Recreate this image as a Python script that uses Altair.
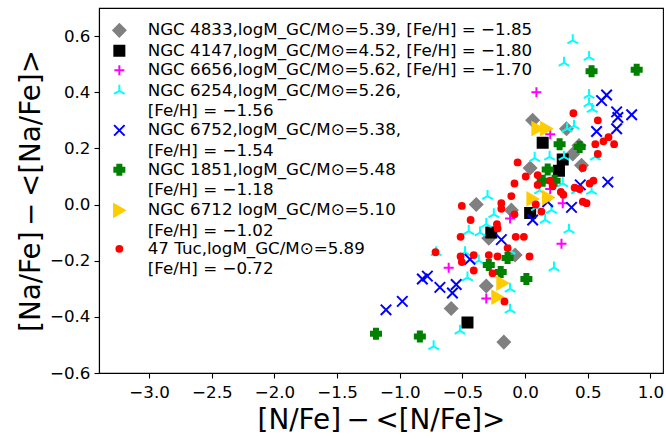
import altair as alt
import pandas as pd

labels = [
    "NGC 4833,logM_GC/M⊙=5.39, [Fe/H] = −1.85",
    "NGC 4147,logM_GC/M⊙=4.52, [Fe/H] = −1.80",
    "NGC 6656,logM_GC/M⊙=5.62, [Fe/H] = −1.70",
    "NGC 6254,logM_GC/M⊙=5.26,|[Fe/H] = −1.56",
    "NGC 6752,logM_GC/M⊙=5.38,|[Fe/H] = −1.54",
    "NGC 1851,logM_GC/M⊙=5.48|[Fe/H] = −1.18",
    "NGC 6712 logM_GC/M⊙=5.10|[Fe/H] = −1.02",
    "47 Tuc,logM_GC/M⊙=5.89|[Fe/H] = −0.72",
]

# NGC 4833
x_4833 = [0.06, 0.33, 0.43, 0.38, 0.45, 0.04, -0.39, -0.11, -0.29, -0.08, -0.31, -0.59, -0.17]
y_4833 = [0.30, 0.27, 0.21, 0.18, 0.14, 0.13, 0.00, -0.02, -0.12, -0.18, -0.29, -0.37, -0.49]
# NGC 4147
x_4147 = [-0.46, -0.27, 0.04, 0.14, 0.30, 0.27]
y_4147 = [-0.42, -0.10, -0.03, 0.22, 0.16, 0.12]
# NGC 6656
x_6656 = [0.09, 0.20, 0.20, 0.30, -0.12, 0.29, -0.61, -0.31]
y_6656 = [0.40, 0.25, 0.055, 0.005, -0.05, -0.14, -0.225, -0.335]
# NGC 6254
x_6254 = [0.38, 0.51, 0.31, 0.51, 0.51, 0.535, 0.39, 0.335, 0.076, 0.195, 0.31, 0.56,
          0.30, 0.115, 0.41, 0.53, -0.30, 0.09, 0.21, 0.16, -0.25, -0.31, -0.45, -0.36,
          0.35, -0.71, -0.48, -0.37, -0.12, 0.23, -0.46, -0.12, -0.12, -0.52, -0.73]
y_6254 = [0.585, 0.525, 0.505, 0.39, 0.36, 0.34, 0.28, 0.27, 0.165, 0.17, 0.17, 0.17,
          0.075, 0.05, 0.05, 0.048, 0.03, -0.01, -0.02, -0.055, -0.035, -0.07, -0.095, -0.10,
          -0.09, -0.17, -0.17, -0.20, -0.165, -0.225, -0.26, -0.30, -0.375, -0.45, -0.505]
# NGC 6752
x_6752 = [0.65, 0.61, 0.73, 0.74, 0.85, 0.73, 0.57, 0.44, 0.66, 0.37, 0.18, 0.06, -0.19,
          -0.44, -0.82, -0.78, -0.68, -0.55, -0.58, -0.98, -1.11]
y_6752 = [0.39, 0.37, 0.33, 0.31, 0.32, 0.27, 0.26, 0.07, 0.08, -0.01, 0.01, -0.055, -0.125,
          -0.195, -0.265, -0.255, -0.295, -0.285, -0.315, -0.345, -0.375]
# NGC 1851
x_1851 = [0.53, 0.89, 0.275, 0.435, 0.18, 0.14, 0.235, -0.14, -0.29, -0.195, 0.01, -1.19, -0.84]
y_1851 = [0.475, 0.48, 0.215, 0.205, 0.125, 0.085, 0.085, -0.19, -0.215, -0.24, -0.265, -0.46, -0.47]
# NGC 6712
x_6712 = [0.10, 0.17, 0.06, 0.185, -0.18, -0.22]
y_6712 = [0.27, 0.27, 0.02, 0.025, -0.28, -0.33]
# 47 Tuc
x_47tuc = [0.385, 0.58, 0.665, 0.625, 0.56, 0.71, 0.58, 0.46, -0.06, 0.005, -0.085, 0.10,
           0.10, 0.20, 0.22, 0.545, 0.435, 0.305, 0.49, -0.19, -0.11, -0.505, 0.085, 0.13,
           0.395, 0.515, 0.46, 0.285, -0.085, -0.19, -0.435, -0.225, -0.22, -0.515, -0.075,
           -0.01, -0.14, -0.715, -0.515, -0.41, -0.505, -0.29, -0.22, 0.035, -0.41, -0.26, -0.165]
y_47tuc = [0.325, 0.30, 0.24, 0.225, 0.215, 0.215, 0.18, 0.13, 0.15, 0.10, 0.075, 0.105,
           0.07, 0.085, 0.065, 0.085, 0.055, 0.035, 0.005, 0.005, 0.03, -0.005, 0.00, -0.025,
           0.06, 0.075, 0.01, 0.045, -0.035, -0.015, -0.055, -0.07, -0.085, -0.115, -0.115,
           -0.115, -0.155, -0.17, -0.185, -0.18, -0.205, -0.18, -0.185, -0.185, -0.235, -0.245, -0.345]

series_x = [x_4833, x_4147, x_6656, x_6254, x_6752, x_1851, x_6712, x_47tuc]
series_y = [y_4833, y_4147, y_6656, y_6254, y_6752, y_1851, y_6712, y_47tuc]

x_ticks = [-3.0, -2.5, -2.0, -1.5, -1.0, -0.5, 0.0, 0.5, 1.0]
y_ticks = [-0.6, -0.4, -0.2, 0.0, 0.2, 0.4, 0.6]

rows = []
for lab, xs, ys in zip(labels, series_x, series_y):
    for a, b in zip(xs, ys):
        rows.append({"series": lab, "x": a, "y": b})
df = pd.DataFrame(rows)

shapes = [
    "diamond",
    "square",
    "M0,-1V1M-1,0H1",
    "M0,0V-1M0,0L-0.866,0.5M0,0L0.866,0.5",
    "M-1,-1L1,1M-1,1L1,-1",
    "cross",
    "triangle-right",
    "circle",
]
strokes = ["#808080", "#000000", "#ff00ff", "#00ffff", "#0000ff", "#008000", "#ffcc00", "#ff0000"]
fills = ["#808080", "#000000", "transparent", "transparent", "transparent", "#008000", "#ffcc00", "#ff0000"]
sizes = [150, 100, 100, 150, 110, 100, 150, 34]

FONT = "DejaVu Sans"

leg = alt.Legend(
    title=None,
    orient="none",
    legendX=12,
    legendY=14,
    labelExpr="split(datum.label, '|')",
    labelFontSize=16.7,
    labelFont=FONT,
    labelColor="black",
    labelLimit=0,
    labelOffset=20,
    rowPadding=0.5,
    padding=0,
    symbolStrokeWidth=2,
)

chart = alt.Chart(df).mark_point(opacity=1, strokeWidth=2, filled=False).encode(
    x=alt.X("x:Q",
            scale=alt.Scale(domain=[-3.4, 1.1], nice=False, zero=False),
            axis=alt.Axis(values=x_ticks, format=".1f", title="[N/Fe]\u2009−\u2009<[N/Fe]>",
                          labelPadding=6, titlePadding=6)),
    y=alt.Y("y:Q",
            scale=alt.Scale(domain=[-0.6, 0.7], nice=False, zero=False),
            axis=alt.Axis(values=y_ticks, format=".1f", title="[Na/Fe]\u2009−\u2009<[Na/Fe]>",
                          labelPadding=4, titlePadding=4)),
    shape=alt.Shape("series:N", scale=alt.Scale(domain=labels, range=shapes), legend=leg),
    fill=alt.Fill("series:N", scale=alt.Scale(domain=labels, range=fills), legend=leg),
    stroke=alt.Stroke("series:N", scale=alt.Scale(domain=labels, range=strokes), legend=leg),
    size=alt.Size("series:N", scale=alt.Scale(type="ordinal", domain=labels, range=sizes), legend=leg),
).properties(
    width=564,
    height=365,
    padding={"left": 99, "top": 8, "right": 3, "bottom": 66},
    autosize=alt.AutoSizeParams(type="none"),
    background="white",
).configure(
    style={"guide-label": {"lineHeight": 20.3}}
).configure_view(
    stroke="black", strokeWidth=1.1
).configure_axis(
    grid=False,
    domainColor="black",
    domainWidth=1.1,
    tickColor="black",
    tickWidth=1.1,
    tickSize=5,
    labelFont=FONT,
    labelFontSize=16.7,
    labelColor="black",
    titleFont=FONT,
    titleFontSize=27.8,
    titleFontWeight="normal",
    titleColor="black",
)

chart.save("out.html", embed_options={"renderer": "svg", "actions": False})
